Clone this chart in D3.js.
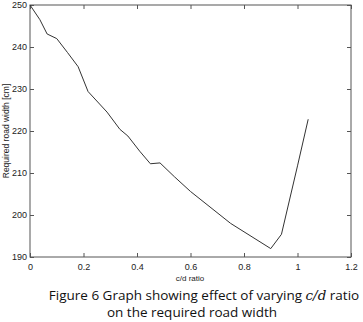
<!DOCTYPE html>
<html>
<head>
<meta charset="utf-8">
<script src="https://cdn.jsdelivr.net/npm/d3@7"></script>
<style>
body { margin: 0; background: #fff; }
svg { display: block; }
.axis text { font-family: "Liberation Sans", Arial, sans-serif; font-size: 9px; fill: #222; }
.axis path, .axis line { stroke: #555; }
</style>
</head>
<body>
<script>
var ratios = [0, 0.037, 0.064, 0.1, 0.14, 0.18, 0.217, 0.288, 0.336, 0.366, 0.41, 0.45, 0.486, 0.54, 0.6, 0.75, 0.9, 0.94, 1.0, 1.04];
var widths = [250, 246.5, 243.1, 242, 238.7, 235.3, 229.4, 224.5, 220.4, 218.8, 215.2, 212.2, 212.4, 209.1, 205.6, 198, 192, 195.4, 211.7, 222.8];
var xTicks = [0, 0.2, 0.4, 0.6, 0.8, 1, 1.2];
var yTicks = [190, 200, 210, 220, 230, 240, 250];

var width = 363, height = 322;
var mLeft = 30, mRight = 351, mTop = 5, mBottom = 257;

var svg = d3.select('body').append('svg').attr('width', width).attr('height', height);

var x = d3.scaleLinear().domain([0, 1.2]).range([mLeft, mRight]);
var y = d3.scaleLinear().domain([190, 250]).range([mBottom, mTop]);

var fmt = function(d){ return d === 0 ? '0' : (d === 1 ? '1' : d3.format('.1f')(d)); };

// box
svg.append('rect').attr('x', mLeft).attr('y', mTop).attr('width', mRight-mLeft).attr('height', mBottom-mTop)
  .attr('fill', 'none').attr('stroke', '#555').attr('stroke-width', 1);

svg.append('g').attr('class','axis x').attr('transform','translate(0,'+mBottom+')')
  .call(d3.axisBottom(x).tickValues(xTicks).tickFormat(fmt).tickSizeInner(-4).tickSizeOuter(0).tickPadding(7));
svg.append('g').attr('class','axis x2').attr('transform','translate(0,'+mTop+')')
  .call(d3.axisTop(x).tickValues(xTicks).tickFormat('').tickSizeInner(-4).tickSizeOuter(0));
svg.append('g').attr('class','axis y').attr('transform','translate('+mLeft+',0)')
  .call(d3.axisLeft(y).tickValues(yTicks).tickSizeInner(-4).tickSizeOuter(0).tickPadding(3));
svg.append('g').attr('class','axis y2').attr('transform','translate('+mRight+',0)')
  .call(d3.axisRight(y).tickValues(yTicks).tickFormat('').tickSizeInner(-4).tickSizeOuter(0));
svg.selectAll('.axis .domain').remove();

var line = d3.line()
  .x(function(d,i){ return x(ratios[i]); })
  .y(function(d){ return y(d); });

svg.append('path')
  .attr('fill','none')
  .attr('stroke','#333')
  .attr('stroke-width', 1)
  .attr('d', line(widths));

svg.append('text')
  .attr('x', 190).attr('y', 281)
  .attr('text-anchor','middle')
  .style('font-family','"Liberation Sans", Arial, sans-serif').style('font-size','8px').style('fill','#222')
  .text('c/d ratio');

svg.append('text')
  .attr('transform','translate(9,'+((mTop+mBottom)/2)+') rotate(-90)')
  .attr('text-anchor','middle')
  .style('font-family','"Liberation Sans", Arial, sans-serif').style('font-size','8.5px').style('fill','#222')
  .text('Required road width [cm]');

var cap = svg.append('text')
  .attr('text-anchor','middle')
  .style('font-family','"Open Sans", sans-serif').style('font-size','13.5px').style('fill','#111');
var l1 = cap.append('tspan').attr('x', 204).attr('y', 300);
l1.append('tspan').text('Figure 6 Graph showing effect of varying ');
l1.append('tspan').style('font-family','"DejaVu Serif", serif').style('font-style','italic').text('c/d');
l1.append('tspan').text(' ratio');
cap.append('tspan').attr('x', 192).attr('y', 317).text('on the required road width');
</script>
</body>
</html>
